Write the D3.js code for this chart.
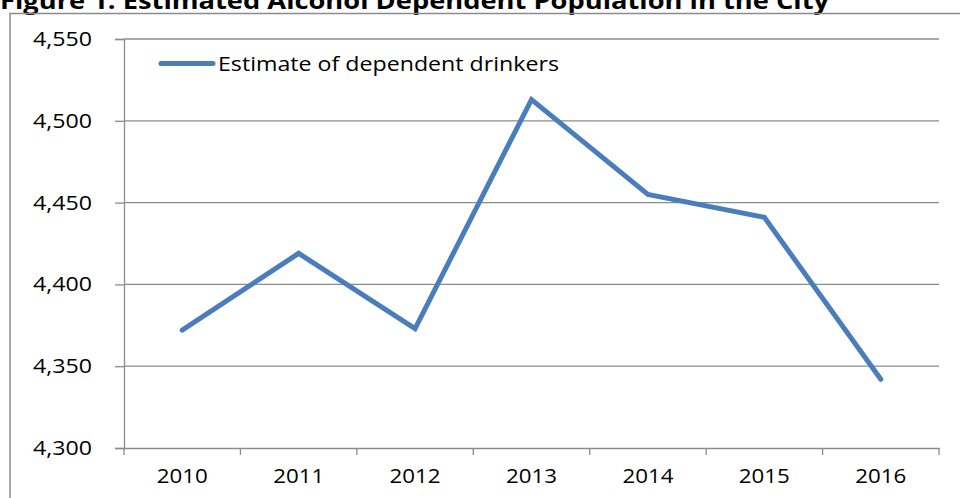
<!DOCTYPE html>
<html>
<head>
<meta charset="utf-8">
<script src="https://cdn.jsdelivr.net/npm/d3@7"></script>
<style>
  body { margin: 0; background: #fff; }
  svg { display: block; font-family: "Open Sans", sans-serif; }
</style>
</head>
<body>
<div id="chart"></div>
<script>
// data
const years = ["2010", "2011", "2012", "2013", "2014", "2015", "2016"]
const drinkers = [4372, 4419, 4373, 4513, 4455, 4441, 4342]
const yTicks = [4300, 4350, 4400, 4450, 4500, 4550]
const seriesName = "Estimate of dependent drinkers"
const title = "Figure 1: Estimated Alcohol Dependent Population in the City"

const width = 960
const height = 498
const grey = "#8c8c8c"
const blue = "#4a7ebb"

const svg = d3.select("#chart").append("svg")
  .attr("width", width)
  .attr("height", height)

// title (cut off at top like the original)
svg.append("text")
  .attr("x", 0)
  .attr("y", 9)
  .attr("font-weight", "bold")
  .attr("font-size", 23)
  .attr("textLength", 829)
  .attr("lengthAdjust", "spacingAndGlyphs")
  .text(title)

// outer frame
svg.append("path")
  .attr("d", `M10,${height} V13.5 H${width}`)
  .attr("fill", "none")
  .attr("stroke", grey)
  .attr("stroke-width", 1.5)

const plot = { left: 124, right: 939, top: 39, bottom: 448 }

const x = d3.scaleBand().domain(years).range([plot.left, plot.right])
const y = d3.scaleLinear().domain([4300, 4550]).range([plot.bottom, plot.top])

// gridlines
svg.append("g")
  .selectAll("line")
  .data(yTicks.slice(1))
  .join("line")
  .attr("x1", plot.left)
  .attr("x2", plot.right)
  .attr("y1", d => y(d))
  .attr("y2", d => y(d))
  .attr("stroke", grey)
  .attr("stroke-width", 1.3)

// y axis
const yAxis = svg.append("g")
  .attr("transform", `translate(${plot.left},0)`)
  .call(d3.axisLeft(y).tickValues(yTicks).tickFormat(d3.format(",")).tickSize(9).tickPadding(23))
yAxis.select(".domain").attr("stroke", grey).attr("stroke-width", 1.3)
yAxis.selectAll(".tick line").attr("stroke", grey).attr("stroke-width", 1.3)
yAxis.selectAll("text")
  .attr("font-family", "Open Sans")
  .attr("font-size", 20)
  .attr("fill", "#000")
  .attr("textLength", 59)
  .attr("lengthAdjust", "spacingAndGlyphs")

// x axis, ticks at band boundaries
const xAxis = svg.append("g")
  .attr("transform", `translate(0,${plot.bottom})`)
  .call(d3.axisBottom(x).tickSize(0).tickPadding(21))
xAxis.select(".domain").attr("stroke", grey).attr("stroke-width", 1.3)
xAxis.selectAll("text")
  .attr("font-family", "Open Sans")
  .attr("font-size", 20)
  .attr("fill", "#000")
  .attr("textLength", 51)
  .attr("lengthAdjust", "spacingAndGlyphs")

const bounds = years.map(d => x(d)).concat([plot.right])
xAxis.append("g")
  .selectAll("line")
  .data(bounds)
  .join("line")
  .attr("x1", d => d)
  .attr("x2", d => d)
  .attr("y1", 0)
  .attr("y2", 7)
  .attr("stroke", grey)
  .attr("stroke-width", 1.3)

// the line
const line = d3.line()
  .x((d, i) => x(years[i]) + x.bandwidth() / 2)
  .y(d => y(d))

svg.append("path")
  .datum(drinkers)
  .attr("fill", "none")
  .attr("stroke", blue)
  .attr("stroke-width", 5)
  .attr("stroke-linecap", "round")
  .attr("stroke-linejoin", "miter")
  .attr("d", line)

// legend
const legend = svg.append("g")
legend.append("line")
  .attr("x1", 161)
  .attr("x2", 213)
  .attr("y1", 63.5)
  .attr("y2", 63.5)
  .attr("stroke", blue)
  .attr("stroke-width", 5)
  .attr("stroke-linecap", "round")
legend.append("text")
  .attr("x", 218)
  .attr("y", 71)
  .attr("font-size", 20)
  .attr("textLength", 341)
  .attr("lengthAdjust", "spacingAndGlyphs")
  .text(seriesName)
</script>
</body>
</html>
